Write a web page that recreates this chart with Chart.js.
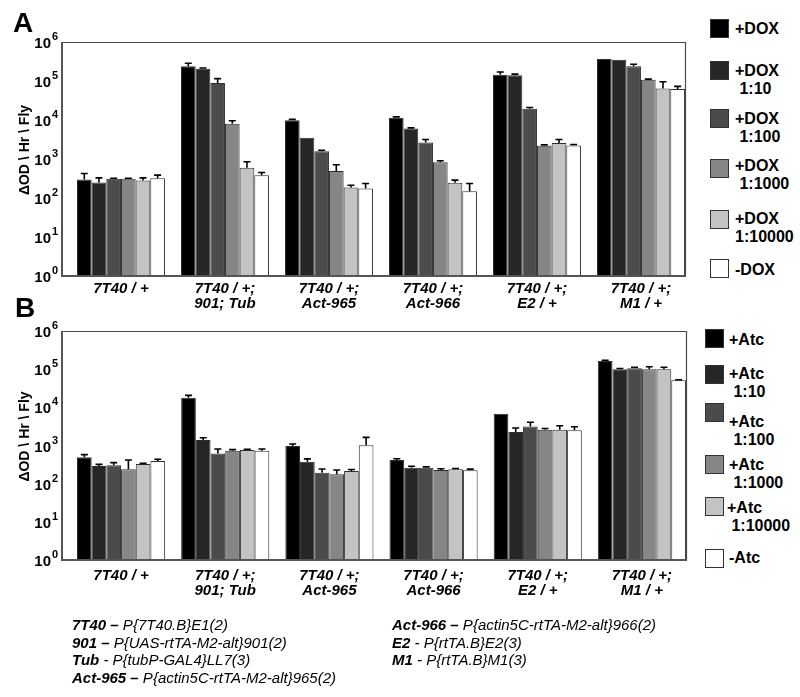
<!DOCTYPE html>
<html>
<head>
<meta charset="utf-8">
<script src="https://cdn.jsdelivr.net/npm/chart.js@4/dist/chart.umd.min.js"></script>
<style>
  html,body{margin:0;padding:0;background:#fff;}
  body{width:800px;height:697px;position:relative;overflow:hidden;font-family:"Liberation Sans",Arial,sans-serif;}
  canvas{position:absolute;left:0;}
  .panel{position:absolute;font-weight:bold;font-size:28px;line-height:1;}
  .sq{position:absolute;width:17px;height:17px;border:1.5px solid #333;}
  .lt{position:absolute;font-weight:bold;font-size:16px;line-height:18px;white-space:nowrap;color:#000;}
  .fn{position:absolute;font-family:"Liberation Sans",Arial,sans-serif;font-style:italic;font-size:15px;line-height:18px;white-space:nowrap;color:#000;}
  .fn b{font-weight:bold;}
</style>
</head>
<body>
<script>
// ---------- DATA ----------
const groupLabels = [
  ['7T40 / +'],
  ['7T40 / +;', '901; Tub'],
  ['7T40 / +;', 'Act-965'],
  ['7T40 / +;', 'Act-966'],
  ['7T40 / +;', 'E2 / +'],
  ['7T40 / +;', 'M1 / +']
];
const seriesColors = ['#000000', '#262626', '#4b4b4b', '#868686', '#c3c3c3', '#ffffff'];

// Panel A (DOX)
const seriesNamesA = ['+DOX', '+DOX 1:10', '+DOX 1:100', '+DOX 1:1000', '+DOX 1:10000', '-DOX'];
const doxA      = [300, 238000, 9800, 11400, 145000, 367000];
const dox10A    = [250, 207000, 3500, 6070, 140000, 353000];
const dox100A   = [310, 89000, 1590, 2650, 19500, 238000];
const dox1000A  = [310, 8000, 490, 830, 2180, 108000];
const dox10000A = [280, 594, 186, 245, 2560, 64600];
const noDoxA    = [320, 385, 175, 149, 2230, 62000];
// upper ends of error bars
const doxErrA      = [425, 284000, 10400, 12000, 170000, 372000];
const dox10ErrA    = [329, 215000, 3600, 6300, 150000, 362000];
const dox100ErrA   = [320, 115000, 1680, 3170, 21000, 270000];
const dox1000ErrA  = [320, 9600, 710, 900, 2300, 112000];
const dox10000ErrA = [329, 850, 213, 288, 3170, 96000];
const noDoxErrA    = [385, 450, 235, 235, 2350, 72600];

// Panel B (Atc)
const seriesNamesB = ['+Atc', '+Atc 1:10', '+Atc 1:100', '+Atc 1:1000', '+Atc 1:10000', '-Atc'];
const atcB      = [490, 17900, 975, 417, 6810, 163000];
const atc10B    = [290, 1390, 378, 262, 2250, 99000];
const atc100B   = [302, 620, 194, 262, 3170, 105000];
const atc1000B  = [237, 730, 176, 228, 2600, 99000];
const atc10000B = [327, 760, 215, 237, 2600, 99000];
const noAtcB    = [390, 730, 1010, 224, 2500, 51000];
const atcErrB      = [575, 20600, 1090, 450, 7000, 172000];
const atc10ErrB    = [320, 1600, 445, 285, 2870, 104000];
const atc100ErrB   = [355, 810, 242, 275, 4050, 112000];
const atc1000ErrB  = [417, 780, 228, 245, 2800, 116000];
const atc10000ErrB = [340, 800, 235, 250, 3300, 112000];
const noAtcErrB    = [435, 810, 1630, 240, 3110, 53000];

const yTickExponents = [0, 1, 2, 3, 4, 5, 6];
const yTitle = '\u0394OD \\ Hr \\ Fly';

// ---------- CHART HELPERS ----------
const decor = {
  id: 'decor',
  afterDatasetsDraw(chart) {
    const {ctx, chartArea: a, scales: {y}} = chart;
    ctx.save();
    // error bars
    ctx.strokeStyle = '#000';
    ctx.lineWidth = 1.6;
    chart.data.datasets.forEach((ds, di) => {
      const meta = chart.getDatasetMeta(di);
      meta.data.forEach((bar, i) => {
        const top = y.getPixelForValue(ds.errHigh[i]);
        if (top < bar.y - 0.5) {
          ctx.beginPath();
          ctx.moveTo(bar.x, bar.y);
          ctx.lineTo(bar.x, top);
          ctx.moveTo(bar.x - 3.5, top);
          ctx.lineTo(bar.x + 3.5, top);
          ctx.stroke();
        }
      });
    });
    // frame
    ctx.strokeStyle = '#4a4a4a';
    ctx.lineWidth = 1.2;
    ctx.beginPath();
    ctx.moveTo(a.left, a.top + 0.5); ctx.lineTo(a.right, a.top + 0.5);
    ctx.moveTo(a.right - 0.5, a.top); ctx.lineTo(a.right - 0.5, a.bottom);
    ctx.stroke();
    ctx.strokeStyle = '#555';
    ctx.lineWidth = 2;
    ctx.beginPath();
    ctx.moveTo(a.left, a.top); ctx.lineTo(a.left, a.bottom);
    ctx.lineTo(a.right, a.bottom);
    ctx.stroke();
    // y tick labels with superscripts
    ctx.fillStyle = '#000';
    yTickExponents.forEach(k => {
      const py = y.getPixelForValue(Math.pow(10, k));
      ctx.font = 'bold 15px "Liberation Sans", Arial, sans-serif';
      ctx.textAlign = 'right';
      ctx.textBaseline = 'middle';
      ctx.fillText('10', a.left - 11, py + 2);
      ctx.font = 'bold 11px "Liberation Sans", Arial, sans-serif';
      ctx.textAlign = 'left';
      ctx.fillText(String(k), a.left - 10, py - 5);
    });
    // y title
    ctx.translate(a.left - 37, (a.top + a.bottom) / 2 - 9);
    ctx.rotate(-Math.PI / 2);
    ctx.font = 'bold 14px "Liberation Sans", Arial, sans-serif';
    ctx.textAlign = 'center';
    ctx.textBaseline = 'middle';
    ctx.fillText(yTitle, 0, 0);
    ctx.restore();
  }
};

function makeChart(top, height, padding, tickPad, names, values, errs) {
  const cv = document.createElement('canvas');
  cv.width = 700; cv.height = height;
  cv.style.top = top + 'px';
  document.body.appendChild(cv);
  const datasets = values.map((vals, si) => ({
    label: names[si],
    data: vals.map((v, i) => ({x: i, y: v})),
    errHigh: errs[si],
    backgroundColor: seriesColors[si],
    borderColor: '#2e2e2e',
    borderWidth: 1,
    categoryPercentage: 0.846,
    barPercentage: 1.0
  }));
  return new Chart(cv, {
    type: 'bar',
    data: {datasets},
    options: {
      responsive: false,
      animation: false,
      devicePixelRatio: 1,
      layout: {padding},
      plugins: {legend: {display: false}, tooltip: {enabled: false}},
      scales: {
        x: {
          type: 'linear',
          offset: false,
          min: -0.567, max: 5.433,
          grid: {display: false, drawTicks: false, tickLength: 0},
          border: {display: false},
          afterBuildTicks: s => { s.ticks = groupLabels.map((_, i) => ({value: i})); },
          afterFit: s => { s.height = 50; },
          ticks: {
            autoSkip: false, maxRotation: 0, minRotation: 0, padding: tickPad,
            color: '#000',
            font: {family: '"Liberation Sans", Arial, sans-serif', size: 15, weight: 'bold', style: 'italic', lineHeight: 1.0},
            callback: v => groupLabels[v] || ''
          }
        },
        y: {
          type: 'logarithmic',
          min: 1, max: 1e6,
          grid: {display: false, drawTicks: false},
          border: {display: false},
          ticks: {display: false},
          afterFit: s => { s.width = 0; }
        }
      }
    },
    plugins: [decor]
  });
}

makeChart(0, 330, {left: 62, right: 14, top: 42, bottom: 4}, 5, seriesNamesA,
  [doxA, dox10A, dox100A, dox1000A, dox10000A, noDoxA],
  [doxErrA, dox10ErrA, dox100ErrA, dox1000ErrA, dox10000ErrA, noDoxErrA]);
makeChart(300, 320, {left: 62, right: 13, top: 31, bottom: 10}, 8, seriesNamesB,
  [atcB, atc10B, atc100B, atc1000B, atc10000B, noAtcB],
  [atcErrB, atc10ErrB, atc100ErrB, atc1000ErrB, atc10000ErrB, noAtcErrB]);

// ---------- LEGENDS ----------
function addEl(cls, left, top, html, extra) {
  const d = document.createElement('div');
  d.className = cls;
  d.style.left = left + 'px';
  d.style.top = top + 'px';
  d.innerHTML = html;
  if (extra) Object.assign(d.style, extra);
  document.body.appendChild(d);
}
const legendA = [
  {sq: 19, lines: ['+DOX'], ty: 20},
  {sq: 61, lines: ['+DOX', '&nbsp;1:10'], ty: 62},
  {sq: 109, lines: ['+DOX', '&nbsp;1:100'], ty: 110},
  {sq: 159, lines: ['+DOX', '&nbsp;1:1000'], ty: 157},
  {sq: 210, lines: ['+DOX', '1:10000'], ty: 210},
  {sq: 259, lines: ['-DOX'], ty: 261}
];
legendA.forEach((it, i) => {
  addEl('sq', 710, it.sq, '', {background: seriesColors[i]});
  addEl('lt', 735, it.ty, it.lines.join('<br>'));
});
const legendB = [
  {sq: 329, lines: ['+Atc'], ty: 331, tx: 729},
  {sq: 365, lines: ['+Atc', '&nbsp;1:10'], ty: 365, tx: 729},
  {sq: 403, lines: ['+Atc', '&nbsp;1:100'], ty: 413, tx: 729},
  {sq: 455, lines: ['+Atc', '&nbsp;1:1000'], ty: 456, tx: 729},
  {sq: 497, lines: ['+Atc', '&nbsp;1:10000'], ty: 499, tx: 727},
  {sq: 549, lines: ['-Atc'], ty: 549, tx: 729}
];
legendB.forEach((it, i) => {
  addEl('sq', 705, it.sq, '', {background: seriesColors[i]});
  addEl('lt', it.tx, it.ty, it.lines.join('<br>'));
});

// ---------- PANEL LETTERS ----------
addEl('panel', 13, 9, 'A');
addEl('panel', 15, 294, 'B');

// ---------- FOOTNOTE ----------
const footLeft = [
  '<b>7T40 \u2013</b> P{7T40.B}E1(2)',
  '<b>901 \u2013</b> P{UAS-rtTA-M2-alt}901(2)',
  '<b>Tub</b> - P{tubP-GAL4}LL7(3)',
  '<b>Act-965 \u2013</b> P{actin5C-rtTA-M2-alt}965(2)'
];
const footRight = [
  '<b>Act-966 \u2013</b> P{actin5C-rtTA-M2-alt}966(2)',
  '<b>E2</b> - P{rtTA.B}E2(3)',
  '<b>M1</b> - P{rtTA.B}M1(3)'
];
footLeft.forEach((t, i) => addEl('fn', 72, 616 + i * 17.7, t));
footRight.forEach((t, i) => addEl('fn', 392, 616 + i * 17.7, t));
</script>
</body>
</html>
